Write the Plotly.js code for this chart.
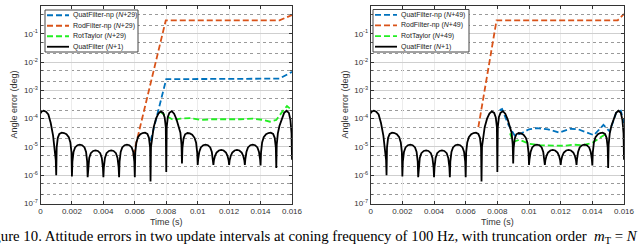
<!DOCTYPE html>
<html>
<head>
<meta charset="utf-8">
<script src="https://cdn.plot.ly/plotly-3.0.1.min.js"></script>
<style>
html,body{margin:0;padding:0;background:#fff;}
#chart{width:640px;height:244px;}
</style>
</head>
<body>
<div id="chart"></div>
<script>
// ---------- data (time in seconds, angle error in degrees) ----------
const timeBlack = [
0,0.00003,0.0001,0.0002,0.00035,0.0005,0.00065,0.0008,0.0009,0.00097,
0.001,0.00103,0.0011,0.0012,0.00135,0.0015,0.00165,0.0018,0.0019,0.00197,
0.002,0.00203,0.0021,0.0022,0.00235,0.0025,0.00265,0.0028,0.0029,0.00297,
0.003,0.00303,0.0031,0.0032,0.00335,0.0035,0.00365,0.0038,0.0039,0.00397,
0.004,0.00403,0.0041,0.0042,0.00435,0.0045,0.00465,0.0048,0.0049,0.00497,
0.005,0.00503,0.0051,0.0052,0.00535,0.0055,0.00565,0.0058,0.0059,0.00597,
0.006,0.00603,0.0061,0.0062,0.00635,0.0065,0.00665,0.0068,0.0069,0.00697,
0.007,0.00703,0.0071,0.0072,0.00735,0.0075,0.00765,0.0078,0.0079,0.00797,
0.008,0.00803,0.0081,0.0082,0.00835,0.0085,0.00865,0.0088,0.0089,0.00897,
0.009,0.00903,0.0091,0.0092,0.00935,0.0095,0.00965,0.0098,0.0099,0.00997,
0.01,0.01003,0.0101,0.0102,0.01035,0.0105,0.01065,0.0108,0.0109,0.01097,
0.011,0.01103,0.0111,0.0112,0.01135,0.0115,0.01165,0.0118,0.0119,0.01197,
0.012,0.01203,0.0121,0.0122,0.01235,0.0125,0.01265,0.0128,0.0129,0.01297,
0.013,0.01303,0.0131,0.0132,0.01335,0.0135,0.01365,0.0138,0.0139,0.01397,
0.014,0.01403,0.0141,0.0142,0.01435,0.0145,0.01465,0.0148,0.0149,0.01497,
0.015,0.01503,0.0151,0.0152,0.01535,0.0155,0.01565,0.0158,0.0159,0.01597,
0.016];

const quatFilterN1 = [
1.55e-4,1.7e-4,1.85e-4,1.9e-4,1.75e-4,1.4e-4,7e-5,2.5e-5,1e-5,3.5e-6,
1e-6,9.6e-6,2.1e-5,2.9e-5,3.2e-5,3.1e-5,2.8e-5,2.2e-5,1.45e-5,6.4e-6,
9e-7,3e-6,6.6e-6,9.6e-6,1.15e-5,1.2e-5,1.15e-5,9.6e-6,6.6e-6,3e-6,
8.5e-7,1.9e-6,4.1e-6,6e-6,7.2e-6,7.5e-6,7.2e-6,6e-6,4.1e-6,1.9e-6,
8.5e-7,1.9e-6,4.1e-6,6e-6,7.2e-6,7.5e-6,7.2e-6,6e-6,4.1e-6,1.9e-6,
8.5e-7,3e-6,6.6e-6,9.6e-6,1.15e-5,1.2e-5,1.15e-5,9.6e-6,6.6e-6,3e-6,
8.5e-7,6.4e-6,1.45e-5,2.2e-5,2.8e-5,3.1e-5,3.2e-5,2.9e-5,2.1e-5,9.6e-6,
6e-7,1e-5,2.5e-5,5e-5,1e-4,1.5e-4,1.8e-4,1.6e-4,1.1e-4,5e-5,
1.3e-6,5e-5,1.15e-4,1.6e-4,1.85e-4,1.5e-4,9.5e-5,5.5e-5,3.2e-5,1.2e-5,
2.6e-6,9.3e-6,2e-5,2.8e-5,3.1e-5,3e-5,2.7e-5,2.1e-5,1.4e-5,6.2e-6,
2.3e-6,3.6e-6,6.6e-6,9.6e-6,1.15e-5,1.2e-5,1.15e-5,9.6e-6,6.6e-6,3.6e-6,
2.3e-6,3.3e-6,4.8e-6,6.3e-6,7.5e-6,7.8e-6,7.5e-6,6.3e-6,4.8e-6,3.3e-6,
2.3e-6,3.3e-6,4.8e-6,6.3e-6,7.5e-6,7.8e-6,7.5e-6,6.3e-6,4.8e-6,3.3e-6,
2.3e-6,3.6e-6,6.6e-6,9.6e-6,1.15e-5,1.2e-5,1.15e-5,9.6e-6,6.6e-6,3.6e-6,
2.2e-6,6.4e-6,1.45e-5,2.2e-5,2.8e-5,3.1e-5,3.2e-5,2.9e-5,2.1e-5,9.6e-6,
1.8e-6,1.2e-5,3e-5,5.5e-5,1e-4,1.6e-4,1.9e-4,1.6e-4,9e-5,3e-5,
3.5e-6];

// Left panel (N+29)
const quatNpTimeL = [0.007,0.0080,0.009,0.010,0.011,0.012,0.013,0.014,0.0152,0.016];
const quatNpL     = [1.6e-5,2.5e-3,2.5e-3,2.5e-3,2.5e-3,2.5e-3,2.5e-3,2.5e-3,2.6e-3,4.5e-3];
const rodNpTimeL  = [0.0059,0.00797,0.009,0.010,0.011,0.012,0.013,0.014,0.0152,0.016];
const rodNpL      = [5e-6,0.3,0.3,0.3,0.3,0.3,0.3,0.3,0.3,0.46];
const rotTayTimeL = [0.0076,0.0079,0.00845,0.0089,0.0095,0.01025,0.0109,0.01185,0.0127,0.0135,0.0142,0.0146,0.0150,0.0154,0.01568,0.016];
const rotTayL     = [1.8e-4,1.35e-4,9e-5,1e-4,1.05e-4,9e-5,9.5e-5,9.3e-5,9.5e-5,1e-4,9e-5,7.8e-5,9e-5,1.8e-4,2.8e-4,2e-4];

// Right panel (N+49)
const quatNpTimeR = [0.00815,0.0083,0.0087,0.0091,0.0095,0.0100,0.0105,0.0112,0.0119,0.0126,0.0131,0.0137,0.0141,0.0147,0.0151,0.0155,0.0158,0.016];
const quatNpR     = [2.0e-4,2.2e-4,6e-5,2.5e-5,3e-5,4.2e-5,4.6e-5,4.2e-5,3.2e-5,4.4e-5,4.2e-5,3.2e-5,2.6e-5,6e-5,3.5e-5,1.6e-4,1.9e-4,7e-5];
const rodNpTimeR  = [0.0068,0.00795,0.009,0.010,0.011,0.012,0.013,0.014,0.015,0.0156,0.016];
const rodNpR      = [5e-5,0.3,0.3,0.3,0.3,0.3,0.3,0.3,0.3,0.3,0.5];
const rotTayTimeR = [0.0088,0.0090,0.0094,0.0100,0.0107,0.0115,0.0122,0.0128,0.0134,0.0140,0.0145,0.0149];
const rotTayR     = [3e-5,1.5e-5,1.8e-5,1.3e-5,1.15e-5,1.1e-5,1.1e-5,1.2e-5,1.15e-5,1.4e-5,2.2e-5,3e-5];

const xTickVals = [0,0.002,0.004,0.006,0.008,0.01,0.012,0.014,0.016];
const xTickText = ['0','0.002','0.004','0.006','0.008','0.01','0.012','0.014','0.016'];
const yTickVals = [1e-7,1e-6,1e-5,1e-4,1e-3,1e-2,1e-1,1];
const yTickText = ['10<sup>-7</sup>','10<sup>-6</sup>','10<sup>-5</sup>','10<sup>-4</sup>','10<sup>-3</sup>','10<sup>-2</sup>','10<sup>-1</sup>','10<sup>0</sup>'];

const namesL = ['QuatFilter-np (<i>N</i>+29)','RodFilter-np (<i>N</i>+29)','RotTaylor (<i>N</i>+29)','QuatFilter (<i>N</i>+1)'];
const namesR = ['QuatFilter-np (<i>N</i>+49)','RodFilter-np (<i>N</i>+49)','RotTaylor (<i>N</i>+49)','QuatFilter (<i>N</i>+1)'];

// ---------- styles ----------
const BLUE='#0072BD', ORANGE='#D95319', GREEN='#22EE22', BLACK='#000000';
const seriesColors=[BLUE,ORANGE,GREEN,BLACK];
const seriesDash=['6px,3px','6px,3px','6px,3px','solid'];
const LW=1.8;

function trace(x,y,name,i,xa,ya){
  return {x:x,y:y,name:name,type:'scatter',mode:'lines',xaxis:xa,yaxis:ya,showlegend:false,
    line:{color:seriesColors[i],width:LW,dash:seriesDash[i]},hoverinfo:'skip'};
}

const traces = [
  trace(quatNpTimeL,quatNpL,namesL[0],0,'x','y'),
  trace(rodNpTimeL,rodNpL,namesL[1],1,'x','y'),
  trace(rotTayTimeL,rotTayL,namesL[2],2,'x','y'),
  trace(timeBlack,quatFilterN1,namesL[3],3,'x','y'),
  trace(quatNpTimeR,quatNpR,namesR[0],0,'x2','y2'),
  trace(rodNpTimeR,rodNpR,namesR[1],1,'x2','y2'),
  trace(rotTayTimeR,rotTayR,namesR[2],2,'x2','y2'),
  trace(timeBlack,quatFilterN1,namesR[3],3,'x2','y2')
];

const W=640,H=244;
const FONT='"Liberation Sans", Arial, Helvetica, sans-serif';

function xAxis(dom,anchor){
  return {domain:dom,anchor:anchor,range:[0,0.016],tickvals:xTickVals,ticktext:xTickText,
    ticks:'inside',ticklen:3,tickcolor:'#333',showline:true,linecolor:'#333',linewidth:1,mirror:'ticks',
    showgrid:true,gridcolor:'#ececec',gridwidth:1,zeroline:false,
    tickfont:{size:8,color:'#333',family:FONT},
    title:{text:'Time (s)',font:{size:9,color:'#333',family:FONT},standoff:3}};
}
function yAxis(dom,anchor){
  return {domain:dom,anchor:anchor,type:'log',range:[-7,0],tickvals:yTickVals,ticktext:yTickText,
    ticks:'inside',ticklen:3,tickcolor:'#333',showline:true,linecolor:'#333',linewidth:1,mirror:'ticks',
    showgrid:true,gridcolor:'#cfcfcf',gridwidth:1,zeroline:false,
    minor:{dtick:'D2',showgrid:true,gridcolor:'#9a9a9a',griddash:'dot',gridwidth:1,ticks:'inside',ticklen:2,tickcolor:'#555'},
    tickfont:{size:8,color:'#333',family:FONT},
    title:{text:'Angle error (deg)',font:{size:9,color:'#333',family:FONT},standoff:4}};
}

// ---------- hand-built compact legends (MATLAB style) ----------
const shapes=[], annotations=[];
function addLegend(names,left,right,top,bottom){
  shapes.push({type:'rect',xref:'paper',yref:'paper',x0:left/W,x1:right/W,y0:1-bottom/H,y1:1-top/H,
    fillcolor:'#ffffff',line:{color:'#444',width:1},layer:'above'});
  const rowH=(bottom-top)/names.length;
  names.forEach((nm,i)=>{
    const yc=top+rowH*(i+0.5);
    shapes.push({type:'line',xref:'paper',yref:'paper',x0:(left+2)/W,x1:(left+24)/W,y0:1-yc/H,y1:1-yc/H,
      line:{color:seriesColors[i],width:LW,dash:seriesDash[i]},layer:'above'});
    annotations.push({xref:'paper',yref:'paper',x:(left+27)/W,y:1-yc/H,xanchor:'left',yanchor:'middle',
      showarrow:false,text:nm,font:{size:7,color:'#222',family:FONT},borderpad:0});
  });
}
addLegend(namesL,45,138,10,52);
addLegend(namesR,373,469,9.5,52);

annotations.push({
  xref:'paper',yref:'paper',x:-21/W,y:1-237/H,xanchor:'left',yanchor:'middle',showarrow:false,
  text:'Figure 10. Attitude errors in two update intervals at coning frequency of 100 Hz, with truncation order  <i>m</i><sub>T</sub> = <i>N</i>',
  font:{family:'"Liberation Serif", "Times New Roman", serif',size:14.8,color:'#000'}
});

const yDom=[1-203.5/H,1-5.5/H];
const layout = {
  width:W,height:H,margin:{l:0,r:0,t:0,b:0},
  paper_bgcolor:'#ffffff',plot_bgcolor:'#ffffff',
  font:{family:FONT,size:8,color:'#333'},
  showlegend:false,
  xaxis:xAxis([40.5/W,292/W],'y'),
  yaxis:yAxis(yDom,'x'),
  xaxis2:xAxis([370.7/W,624/W],'y2'),
  yaxis2:yAxis(yDom,'x2'),
  shapes:shapes,
  annotations:annotations
};

Plotly.newPlot('chart',traces,layout,{staticPlot:true,displayModeBar:false});
</script>
</body>
</html>
